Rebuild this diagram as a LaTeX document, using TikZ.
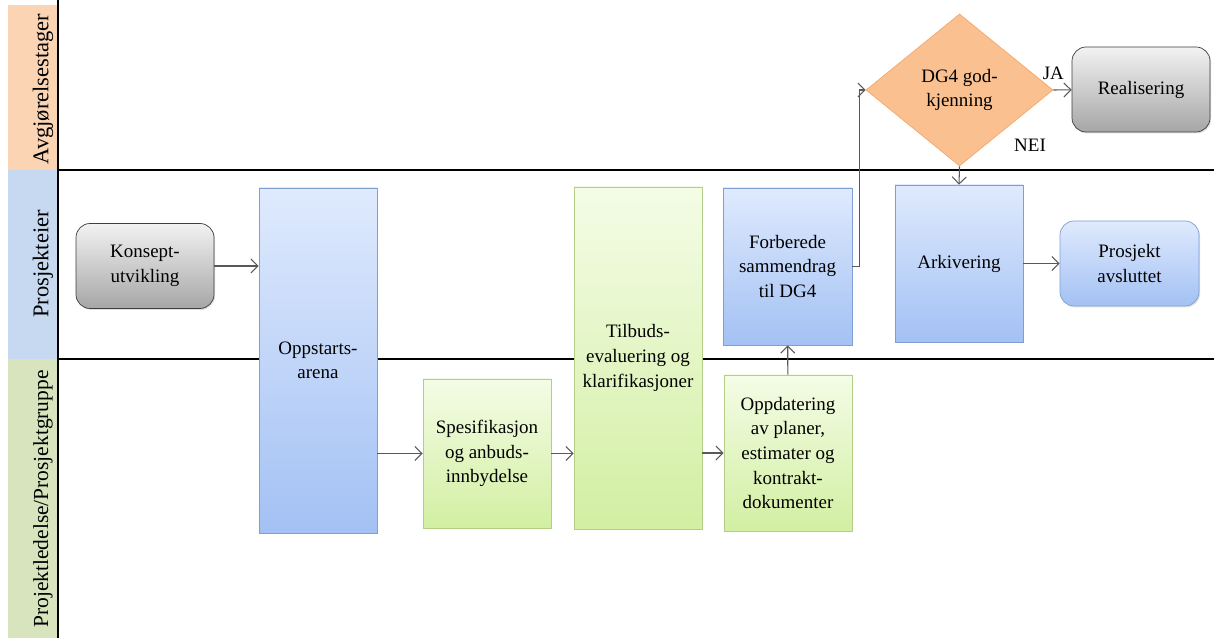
\documentclass[tikz,border=0pt]{standalone}
\usepackage{fontspec}
\setmainfont{Liberation Serif}
\usetikzlibrary{shapes.geometric,arrows.meta,shadows}
\definecolor{laneA}{HTML}{FBD4B4}
\definecolor{laneB}{HTML}{C6D9F1}
\definecolor{laneC}{HTML}{D7E4BD}
\definecolor{bluetop}{HTML}{DFEAFD}
\definecolor{bluebot}{HTML}{A3C1F4}
\definecolor{bluebd}{HTML}{7F9FD3}
\definecolor{greentop}{HTML}{F4FCE6}
\definecolor{greenbot}{HTML}{D2EFA2}
\definecolor{greenbd}{HTML}{B4CE8A}
\definecolor{graytop}{HTML}{F2F2F2}
\definecolor{graybot}{HTML}{A6A6A6}
\definecolor{graybd}{HTML}{3F3F3F}
\definecolor{orangefill}{HTML}{FAC08F}
\definecolor{orangebd}{HTML}{F2A86E}
\definecolor{arrowgray}{HTML}{595959}

\begin{document}
\begin{tikzpicture}[>={Straight Barb[length=4pt,width=8pt]}, font=\rmfamily\fontsize{10.8}{14}\selectfont,
  flowbox/.style={draw, align=center, inner sep=2pt, drop shadow={opacity=.25, shadow xshift=.6pt, shadow yshift=-.8pt}},
  bluebox/.style={flowbox, draw=bluebd, top color=bluetop, bottom color=bluebot},
  greenbox/.style={flowbox, draw=greenbd, top color=greentop, bottom color=greenbot},
  graybox/.style={flowbox, draw=graybd, rounded corners=8pt, top color=graytop, bottom color=graybot, minimum width=2.76cm, minimum height=1.7cm},
  flow/.style={->, draw=arrowgray, line width=.6pt},
  lanelabel/.style={rotate=90, inner sep=0pt, font=\rmfamily\fontsize{12.8}{15}\selectfont}]
\useasboundingbox (0,0) rectangle (24.28,12.76);

\fill[laneA] (0.16,9.36) rectangle (1.16,12.66);
\fill[laneB] (0.16,5.58) rectangle (1.16,9.36);
\fill[laneC] (0.16,0) rectangle (1.16,5.58);
\draw[line width=.8pt] (1.16,0)--(1.16,12.76);
\draw[line width=.8pt] (1.16,9.36)--(24.28,9.36);
\draw[line width=.8pt] (1.16,5.58)--(24.28,5.58);
\node[lanelabel] (avgj) at (0.86,10.98) {Avgjørelsestager};
\node[lanelabel] (eier) at (0.86,7.48) {Prosjekteier};
\node[lanelabel, font=\rmfamily\fontsize{12.2}{15}\selectfont] (gruppe) at (0.86,2.78) {Projektledelse/Prosjektgruppe};

\node[graybox] (konsept) at (2.90,7.44) {Konsept-\\utvikling};
\node[bluebox, minimum width=2.36cm, minimum height=6.90cm] (oppstart) at (6.36,5.55) {Oppstarts-\\arena};
\node[greenbox, minimum width=2.56cm, minimum height=2.98cm] (spes) at (9.74,3.69) {Spesifikasjon\\og anbuds-\\innbydelse};
\node[greenbox, minimum width=2.56cm, minimum height=6.84cm] (tilbud) at (12.76,5.60) {Tilbuds-\\evaluering og\\klarifikasjoner};
\node[greenbox, minimum width=2.56cm, minimum height=3.12cm] (oppdat) at (15.76,3.70) {Oppdatering\\av planer,\\estimater og\\kontrakt-\\dokumenter};
\node[bluebox, minimum width=2.58cm, minimum height=3.14cm] (forb) at (15.75,7.43) {Forberede\\sammendrag\\til DG4};
\node[diamond, draw=orangebd, fill=orangefill, align=center, inner sep=0pt, minimum width=3.74cm, minimum height=3.04cm] (dg4) at (19.19,10.96) {DG4 god-\\kjenning};
\node[graybox] (real) at (22.82,10.97) {Realisering};
\node[bluebox, minimum width=2.56cm, minimum height=3.14cm] (ark) at (19.18,7.49) {Arkivering};
\node[bluebox, rounded corners=8pt, minimum width=2.78cm, minimum height=1.70cm] (avsl) at (22.59,7.49) {Prosjekt\\avsluttet};

\draw[flow] (konsept)--(konsept -| oppstart.west);
\draw[flow] (spes -| oppstart.east)--(spes);
\draw[flow] (spes)--(spes -| tilbud.west);
\draw[flow] (oppdat -| tilbud.east)--(oppdat);
\draw[flow] (oppdat)--(forb);
\draw[flow] (forb.east)--++(0.14,0) |- (dg4.west);
\draw[flow] (dg4.east)--node[pos=0, anchor=south, yshift=2pt]{JA}(real);
\draw[flow] (dg4.south)--(ark.north);
\node (nei) at (20.60,9.86) {NEI};
\draw[flow] (ark)--(avsl);

\end{tikzpicture}
\end{document}
